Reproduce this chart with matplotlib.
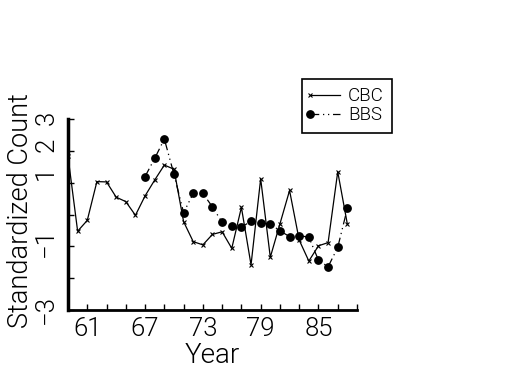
import matplotlib
matplotlib.use("Agg")
import matplotlib.pyplot as plt
from matplotlib.legend_handler import HandlerLine2D
from matplotlib.transforms import ScaledTranslation

years_cbc = list(range(59, 89))
cbc = [1.83, -0.52, -0.18, 1.04, 1.03, 0.55, 0.41, -0.02, 0.59, 1.09,
       1.56, 1.43, -0.22, -0.85, -0.95, -0.62, -0.54, -1.06, 0.23, -1.58,
       1.13, -1.34, -0.29, 0.76, -0.80, -1.46, -0.98, -0.88, 1.35, -0.30]

years_bbs = list(range(67, 89))
bbs = [1.20, 1.77, 2.38, 1.27, 0.06, 0.67, 0.67, 0.24, -0.24, -0.35,
       -0.40, -0.20, -0.27, -0.29, -0.51, -0.69, -0.66, -0.71, -1.43, -1.64,
       -1.03, 0.20]

xtick_major = [61, 67, 73, 79, 85]
xtick_minor = [59, 63, 65, 69, 71, 75, 77, 81, 83, 87, 89]
ytick_major = [3, 2, 1, -1, -3]
ytick_labels = ['3', '2', '1', '\u22121', '\u22123']
ytick_minor = [0, -2]
# vertical nudge of each y tick label in pixels (up is positive)
ytick_nudge = [1, 6, 10, 4, 0]

plt.rcParams['font.family'] = ['Roboto', 'DejaVu Sans']
plt.rcParams['font.weight'] = 300
plt.rcParams['axes.labelweight'] = 300

fig = plt.figure(figsize=(5.25, 3.75), dpi=100)
ax = fig.add_axes([68/525, 65/375, (357-68)/525, (310-119.3)/375])

ax.plot(years_cbc, cbc, color='black', lw=0.9, marker='x', ms=3.5, mew=0.8,
        label='CBC')
ax.plot(years_bbs, bbs, color='black', lw=0.9, marker='o', ms=5.3,
        linestyle=(0, (7, 3, 1, 3, 1, 3)), label='BBS')

ax.set_xlim(59, 89)
ax.set_ylim(-3, 3)
ax.set_xticks(xtick_major)
ax.set_xticks(xtick_minor, minor=True)
ax.set_yticks(ytick_major)
ax.set_yticks(ytick_minor, minor=True)
ax.set_yticklabels(ytick_labels, rotation=90, va='center')
ax.set_xticklabels([str(v) for v in xtick_major])
ax.tick_params(which='both', direction='in', length=4, width=1, labelsize=18.5,
               color='black')
ax.tick_params(axis='x', pad=5)
ax.tick_params(axis='y', pad=7)
for s in ['top', 'right']:
    ax.spines[s].set_visible(False)
ax.spines['left'].set_linewidth(2.5)
ax.spines['bottom'].set_linewidth(2.0)

for lab, dy in zip(ax.get_yticklabels(), ytick_nudge):
    lab.set_transform(lab.get_transform() +
                      ScaledTranslation(0, dy / 100, fig.dpi_scale_trans))

ax.set_xlabel('Year', fontsize=20)
ax.xaxis.set_label_coords(0.5, -0.236)
ax.xaxis.label.set_va('center')
ax.set_ylabel('Standardized Count', fontsize=19.5)
ax.yaxis.set_label_coords(-0.163, 0.52)
ax.yaxis.label.set_va('center')


class LeftMarker(HandlerLine2D):
    def create_artists(self, *args, **kwargs):
        arts = super().create_artists(*args, **kwargs)
        arts[0].set_markevery([0])
        return arts


h, l = ax.get_legend_handles_labels()
leg = fig.legend(h, l, loc='upper left', bbox_to_anchor=(302/525, 1-79/375),
                 borderaxespad=0, fontsize=13.5, handlelength=1.6,
                 handletextpad=0.4, borderpad=0.45, labelspacing=0.05,
                 fancybox=False, edgecolor='black', framealpha=1,
                 handler_map={h[0]: LeftMarker(), h[1]: LeftMarker()})
leg.get_frame().set_linewidth(1.2)

fig.savefig('out.png', dpi=100)
